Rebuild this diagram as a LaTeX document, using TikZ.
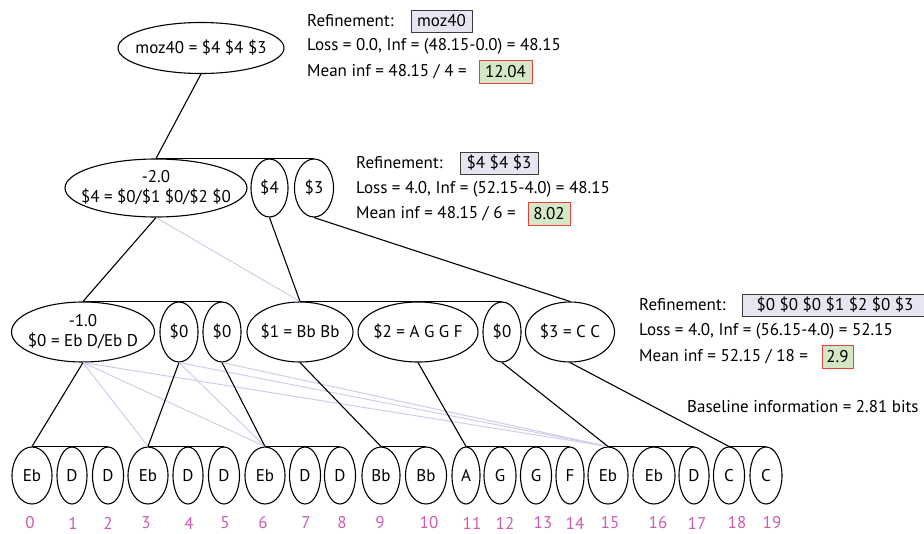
\documentclass[tikz,border=0pt]{standalone}
\usepackage{fontspec}
\setmainfont{PT Sans}
\usetikzlibrary{shapes.geometric}

\definecolor{idxPink}{RGB}{204,92,178}
\definecolor{altLine}{RGB}{206,206,234}
\definecolor{refFill}{RGB}{231,229,242}
\definecolor{refDraw}{RGB}{60,60,60}
\definecolor{infFill}{RGB}{212,232,198}
\definecolor{infDraw}{RGB}{228,64,64}

\tikzset{
	seqEll/.style={ellipse, draw=black, line width=1.1pt, inner xsep=-60pt, inner ysep=-20pt},
	leafEll/.style={seqEll, minimum height=57pt},
	midEll/.style={seqEll, minimum height=60pt, align=center},
	topEll/.style={seqEll, minimum height=58pt, align=center},
	idxTxt/.style={text=idxPink, inner sep=0pt},
	infoTxt/.style={anchor=west, inner sep=0pt},
	refBox/.style={rectangle, fill=refFill, draw=refDraw, line width=1pt, minimum height=22pt, inner sep=2pt},
	infBox/.style={rectangle, fill=infFill, draw=infDraw, line width=1pt, minimum height=23pt, inner sep=2pt},
	treeLine/.style={draw=black, line width=1.1pt},
	altTie/.style={draw=altLine, line width=1pt}
}

\begin{document}
\begin{tikzpicture}[x=1pt, y=-1pt, font=\fontsize{17pt}{20pt}\selectfont]
	\useasboundingbox (0,0) rectangle (924,533);

	% root and first refinement
	\node[seqEll, minimum width=166pt, minimum height=51pt](rootEll) at (201,48){moz40 = \$4 \$4 \$3};

	\node[topEll, minimum width=182pt](topEll1) at (156,188){-2.0\\\$4 = \$0/\$1 \$0/\$2 \$0};
	\node[topEll, minimum width=37pt](topEll2) at (269.5,188){\$4};
	\node[topEll, minimum width=39pt](topEll3) at (314,188){\$3};

	% second refinement
	\node[midEll, minimum width=143pt](midEll1) at (83,332){-1.0\\\$0 = Eb D/Eb D};
	\node[midEll, minimum width=38pt](midEll2) at (179,332){\$0};
	\node[midEll, minimum width=38pt](midEll3) at (222,332){\$0};
	\node[midEll, minimum width=106pt](midEll4) at (300,332){\$1 = Bb Bb};
	\node[midEll, minimum width=120pt](midEll5) at (418,332){\$2 = A G G F};
	\node[midEll, minimum width=38pt](midEll6) at (502,332){\$0};
	\node[midEll, minimum width=89pt](midEll7) at (570,332){\$3 = C C};

	% notes
	\node[leafEll, minimum width=40pt](leaf0) at (32,475.5){Eb};
	\node[leafEll, minimum width=30pt](leaf1) at (72,475.5){D};
	\node[leafEll, minimum width=31pt](leaf2) at (108,475.5){D};
	\node[leafEll, minimum width=40pt](leaf3) at (148,475.5){Eb};
	\node[leafEll, minimum width=30pt](leaf4) at (188,475.5){D};
	\node[leafEll, minimum width=31pt](leaf5) at (224,475.5){D};
	\node[leafEll, minimum width=40pt](leaf6) at (265,475.5){Eb};
	\node[leafEll, minimum width=31pt](leaf7) at (305,475.5){D};
	\node[leafEll, minimum width=31pt](leaf8) at (340,475.5){D};
	\node[leafEll, minimum width=38pt](leaf9) at (381,475.5){Bb};
	\node[leafEll, minimum width=41pt](leaf10) at (426,475.5){Bb};
	\node[leafEll, minimum width=28pt](leaf11) at (466,475.5){A};
	\node[leafEll, minimum width=32pt](leaf12) at (500,475.5){G};
	\node[leafEll, minimum width=31pt](leaf13) at (536,475.5){G};
	\node[leafEll, minimum width=28pt](leaf14) at (570,475.5){F};
	\node[leafEll, minimum width=40pt](leaf15) at (608,475.5){Eb};
	\node[leafEll, minimum width=42pt](leaf16) at (654,475.5){Eb};
	\node[leafEll, minimum width=30pt](leaf17) at (694,475.5){D};
	\node[leafEll, minimum width=31pt](leaf18) at (729,475.5){C};
	\node[leafEll, minimum width=32pt](leaf19) at (766,475.5){C};

	% note indices
	\node[idxTxt](idx0) at (30,523){0};
	\node[idxTxt](idx1) at (73,523){1};
	\node[idxTxt](idx2) at (108,523){2};
	\node[idxTxt](idx3) at (146,523){3};
	\node[idxTxt](idx4) at (189,523){4};
	\node[idxTxt](idx5) at (225,523){5};
	\node[idxTxt](idx6) at (263,523){6};
	\node[idxTxt](idx7) at (306,523){7};
	\node[idxTxt](idx8) at (342,523){8};
	\node[idxTxt](idx9) at (380,523){9};
	\node[idxTxt](idx10) at (429,523){10};
	\node[idxTxt](idx11) at (472,523){11};
	\node[idxTxt](idx12) at (505,523){12};
	\node[idxTxt](idx13) at (543,523){13};
	\node[idxTxt](idx14) at (575,523){14};
	\node[idxTxt](idx15) at (610,523){15};
	\node[idxTxt](idx16) at (658,523){16};
	\node[idxTxt](idx17) at (697,523){17};
	\node[idxTxt](idx18) at (737,523){18};
	\node[idxTxt](idx19) at (772,523){19};

	% refinement info
	\node[infoTxt](ref1Lbl) at (307,21){Refinement:};
	\node[refBox, minimum width=61pt](ref1Box) at (441.5,21){moz40};
	\node[infoTxt](loss1Txt) at (307,46){Loss = 0.0, Inf = (48.15-0.0) = 48.15};
	\node[infoTxt](mean1Txt) at (307,72){Mean inf = 48.15 / 4 =};
	\node[infBox, minimum width=53pt](inf1Box) at (505.5,72){12.04};

	\node[infoTxt](ref2Lbl) at (356,163){Refinement:};
	\node[refBox, minimum width=78pt](ref2Box) at (499,163){\$4 \$4 \$3};
	\node[infoTxt](loss2Txt) at (356,189){Loss = 4.0, Inf = (52.15-4.0) = 48.15};
	\node[infoTxt](mean2Txt) at (356,214){Mean inf = 48.15 / 6 =};
	\node[infBox, minimum width=42pt](inf2Box) at (549,214){8.02};

	\node[infoTxt](ref3Lbl) at (639,305){Refinement:};
	\node[refBox, minimum width=186pt](ref3Box) at (835,305){\$0 \$0 \$0 \$1 \$2 \$0 \$3};
	\node[infoTxt](loss3Txt) at (639,331){Loss = 4.0, Inf = (56.15-4.0) = 52.15};
	\node[infoTxt](mean3Txt) at (639,357){Mean inf = 52.15 / 18 =};
	\node[infBox, minimum width=31pt](inf3Box) at (837.5,357){2.9};

	\node[infoTxt](baseTxt) at (687,407){Baseline information = 2.81 bits};

	% alternative ties
	\draw[altTie] (topEll1.south) -- (midEll4.north);
	\draw[altTie] (midEll1.south) -- (leaf3.north);
	\draw[altTie] (midEll1.south) -- (leaf6.north);
	\draw[altTie] (midEll1.south) -- (leaf15.north);
	\draw[altTie] (midEll2.south) -- (leaf6.north);
	\draw[altTie] (midEll2.south) -- (leaf15.north);
	\draw[altTie] (midEll3.south) -- (leaf15.north);

	% tree
	\draw[treeLine] (rootEll.south) -- (topEll1.north);
	\draw[treeLine] (topEll1.north) -- (topEll3.north);

	\draw[treeLine] (topEll1.south) -- (midEll1.north);
	\draw[treeLine] (topEll2.south) -- (midEll4.north);
	\draw[treeLine] (topEll3.south) -- (midEll7.north);
	\draw[treeLine] (midEll1.north) -- (midEll3.north);
	\draw[treeLine] (midEll4.north) -- (midEll6.north);

	\draw[treeLine] (midEll1.south) -- (leaf0.north);
	\draw[treeLine] (midEll2.south) -- (leaf3.north);
	\draw[treeLine] (midEll3.south) -- (leaf6.north);
	\draw[treeLine] (midEll4.south) -- (leaf9.north);
	\draw[treeLine] (midEll5.south) -- (leaf11.north);
	\draw[treeLine] (midEll6.south) -- (leaf15.north);
	\draw[treeLine] (midEll7.south) -- (leaf18.north);
	\draw[treeLine] (leaf0.north) -- (leaf2.north);
	\draw[treeLine] (leaf3.north) -- (leaf5.north);
	\draw[treeLine] (leaf6.north) -- (leaf8.north);
	\draw[treeLine] (leaf9.north) -- (leaf10.north);
	\draw[treeLine] (leaf11.north) -- (leaf14.north);
	\draw[treeLine] (leaf15.north) -- (leaf17.north);
	\draw[treeLine] (leaf18.north) -- (leaf19.north);
\end{tikzpicture}
\end{document}
